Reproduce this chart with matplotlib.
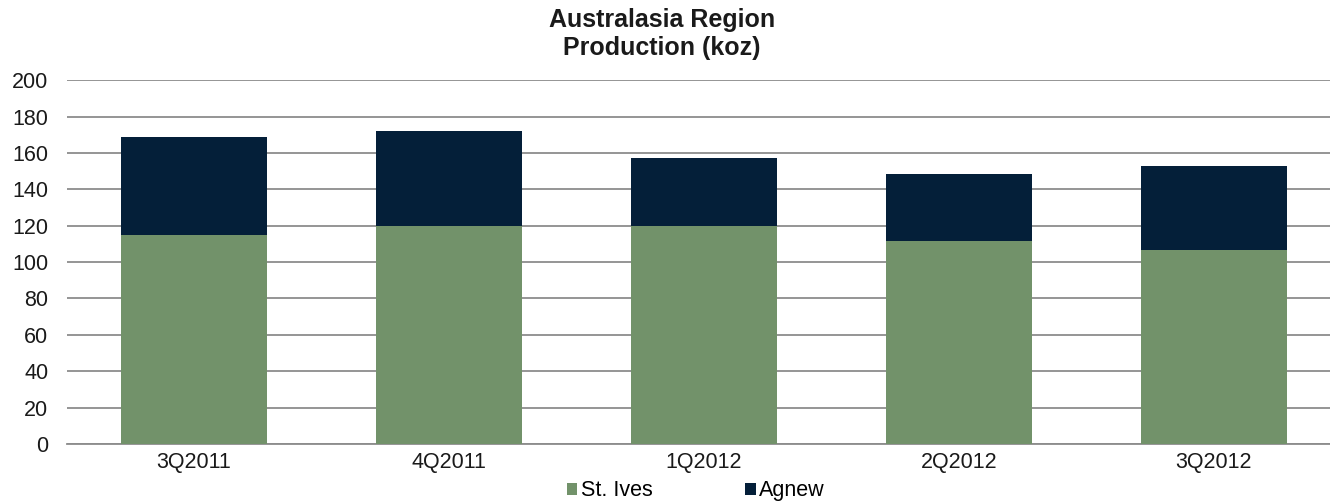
import matplotlib.pyplot as plt
import numpy as np

plt.rcParams['font.family'] = ['Liberation Sans', 'DejaVu Sans']

quarters = ['3Q2011', '4Q2011', '1Q2012', '2Q2012', '3Q2012']
st_ives = [115, 120, 120, 111.6, 106.5]
agnew = [53.5, 52.3, 37.3, 37.0, 46.5]

green = '#72926a'
navy = '#041f39'

fig = plt.figure(figsize=(13.3, 5.04), dpi=100)
# plot area runs past the right edge, as in the source image
ax = fig.add_axes([0.05, 0.119, 0.9586, 0.722])

x = np.arange(len(quarters))
ax.bar(x, st_ives, width=0.573, color=green, label='St. Ives', zorder=3)
ax.bar(x, agnew, width=0.573, bottom=st_ives, color=navy, label='Agnew', zorder=3)

ax.set_xlim(-0.5, 4.5)
ax.set_ylim(0, 200)
ax.set_yticks(range(0, 201, 20))
ax.set_xticks(x)
ax.set_xticklabels(quarters)
ax.grid(axis='y', color='#8c8c8c', linewidth=1.3, zorder=0)
for s in ['top', 'right', 'left']:
    ax.spines[s].set_visible(False)
ax.spines['bottom'].set_color('#8c8c8c')
ax.spines['bottom'].set_linewidth(1.3)
ax.tick_params(axis='both', length=0, labelsize=15.5, colors='#1a1a1a')
ax.tick_params(axis='x', pad=6)
ax.tick_params(axis='y', pad=13)

fig.suptitle('Australasia Region\nProduction (koz)', fontsize=18, fontweight='bold',
             color='#1a1a1a', x=0.4975, y=0.984, linespacing=1.2)

fig.legend(loc='center', bbox_to_anchor=(0.523, 0.026), ncol=2, frameon=False,
           fontsize=15.5, handlelength=0.5, handleheight=0.5, handletextpad=0.15,
           columnspacing=4.3, borderpad=0)

fig.savefig('out.png', dpi=100)
